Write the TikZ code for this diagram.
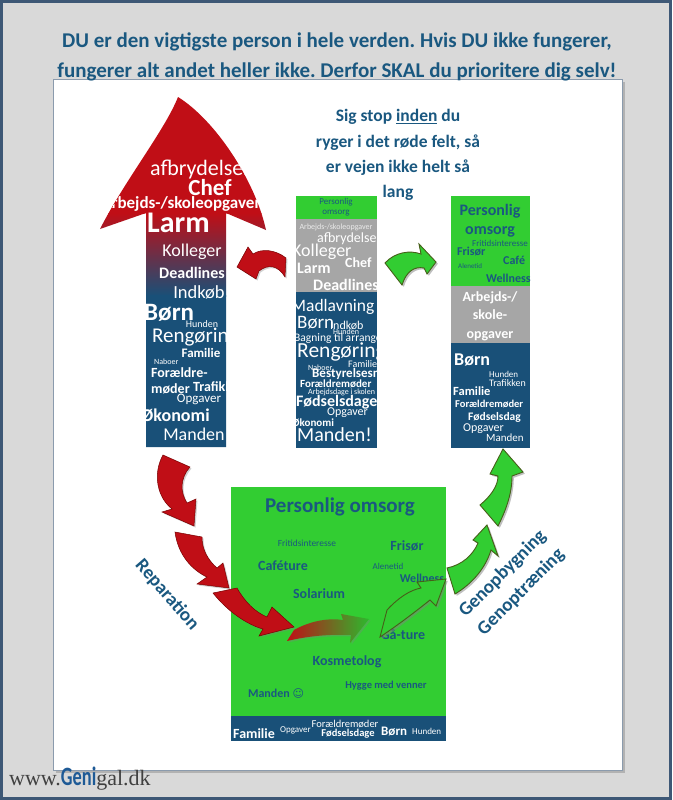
\documentclass[tikz,border=0pt]{standalone}
\usepackage{fontspec}
\usepackage{graphicx}
\setmainfont{Carlito}
\newfontfamily\serifface{Liberation Serif}
\newfontfamily\symface{DejaVu Sans}
\usetikzlibrary{shadows}
\definecolor{bggray}{RGB}{217,217,217}
\definecolor{frameblue}{RGB}{62,88,118}
\definecolor{inkblue}{RGB}{26,88,128}
\definecolor{colblue}{RGB}{25,80,120}
\definecolor{arrowred}{RGB}{192,14,22}
\definecolor{redline}{RGB}{120,0,0}
\definecolor{leafgreen}{RGB}{50,205,50}
\definecolor{greenline}{RGB}{70,95,25}
\definecolor{colgray}{RGB}{166,166,166}
\definecolor{logogray}{RGB}{64,64,64}
\definecolor{logoblue}{RGB}{30,90,150}
\newcommand{\rsz}[1]{\fontsize{#1}{#1}\selectfont}
\newcommand{\bsz}[1]{\bfseries\fontsize{#1}{#1}\selectfont}
\frenchspacing
\begin{document}
\begin{tikzpicture}[x=1pt, y=-1pt,
    wd/.style={inner sep=0pt, text=white},
    tx/.style={inner sep=0pt, text=inkblue},
    redarrow/.style={fill=arrowred, draw=redline, line width=0.5pt,
      drop shadow={shadow xshift=1.5pt, shadow yshift=-1.5pt, opacity=.35}},
    greenarrow/.style={fill=leafgreen, draw=greenline, line width=0.9pt,
      drop shadow={shadow xshift=1.8pt, shadow yshift=-1.8pt, opacity=.5}}]
    \useasboundingbox (0,0) rectangle (672,800);
    \fill[bggray] (0,0) rectangle (672,800);
    \draw[frameblue, line width=3pt] (1.5,1.5) rectangle (670.5,798.5);
    \fill[black!30] (56,82) rectangle (625,773);
    \draw[fill=white, draw=frameblue!60] (53,79) rectangle (622,770);

    \node[tx, align=center, font=\bfseries\fontsize{21}{30}\selectfont] (title) at (337,57)
      {DU er den vigtigste person i hele verden. Hvis DU ikke fungerer,\\
       fungerer alt andet heller ikke. Derfor SKAL du prioritere dig selv!};
    \node[tx, align=center, font=\bfseries\fontsize{17.5}{25.3}\selectfont] (stop) at (398,155)
      {Sig stop \underline{inden} du\\ ryger i det røde felt, så\\ er vejen ikke helt så\\ lang};

    % big arrow
    \begin{scope}
      \clip (100,229) -- (146,213) -- (146,447) -- (226,447) -- (226,213) -- (266,230)
        .. controls (255,180) and (215,120) .. (178,97)
        .. controls (165,130) and (125,180) .. cycle;
      \fill[arrowred] (95,90) rectangle (270,214);
      \shade[top color=arrowred, bottom color=colblue] (95,213) rectangle (270,296);
      \fill[colblue] (95,295) rectangle (270,450);
      \node[wd, anchor=west, font=\rsz{22}] (l1) at (150,170) {afbrydelser};
      \node[wd, font=\bsz{23}] (l2) at (210,188) {Chef};
      \node[wd, anchor=west, font=\bsz{17}] (l3) at (101,204) {Arbejds-/skoleopgaver};
      \node[wd, anchor=west, font=\bsz{30}] (l4) at (147,223) {Larm};
      \node[wd, font=\rsz{18}] (l5) at (192,252) {Kolleger};
      \node[wd, font=\bsz{16}] (l6) at (192,273) {Deadlines};
      \node[wd, font=\rsz{18.5}] (l7) at (199,292) {Indkøb};
      \node[wd, anchor=west, font=\bsz{25}] (l8) at (144,313) {Børn};
      \node[wd, font=\rsz{10}] (l9) at (202,324) {Hunden};
      \node[wd, anchor=west, font=\rsz{21}] (l10) at (152,337) {Rengøring};
      \node[wd, font=\bsz{13}] (l11) at (201,353) {Familie};
      \node[wd, anchor=west, font=\rsz{8}] (l12) at (154,362) {Naboer};
      \node[wd, anchor=west, font=\bsz{14}] (l13) at (151,373) {Forældre-};
      \node[wd, anchor=west, font=\bsz{14}] (l14) at (151,389) {møder};
      \node[wd, anchor=west, font=\bsz{14}] (l15) at (193,387) {Trafikken};
      \node[wd, font=\rsz{13}] (l16) at (199,399) {Opgaver};
      \node[wd, anchor=west, font=\bsz{18}] (l17) at (141,416) {Økonomi};
      \node[wd, font=\rsz{18}] (l18) at (194,434) {Manden};
    \end{scope}

    % middle column
    \begin{scope}
      \clip (296,196) rectangle (377,448);
      \fill[leafgreen] (296,196) rectangle (377,219);
      \fill[colgray] (296,219) rectangle (377,292);
      \fill[colblue] (296,292) rectangle (377,448);
      \node[tx, align=center, font=\fontsize{9}{10}\selectfont] (m1) at (336,207) {Personlig\\omsorg};
      \node[wd, font=\rsz{8}, text=white!92!black] (m2) at (336,227) {Arbejds-/skoleopgaver};
      \node[wd, anchor=west, font=\rsz{14}] (m3) at (317,239) {afbrydelser};
      \node[wd, anchor=west, font=\rsz{18}] (m4) at (292,252) {Kolleger};
      \node[wd, anchor=west, font=\bsz{14}] (m5) at (345,263) {Chef};
      \node[wd, anchor=west, font=\bsz{16}] (m6) at (297,268) {Larm};
      \node[wd, anchor=west, font=\bsz{16}] (m7) at (313,285) {Deadlines};
      \node[wd, anchor=west, font=\rsz{17.5}] (m8) at (291,307) {Madlavning};
      \node[wd, anchor=west, font=\rsz{19}] (m9) at (297,323) {Børn};
      \node[wd, anchor=west, font=\rsz{12}] (m10) at (330,326) {Indkøb};
      \node[wd, anchor=west, font=\rsz{8}] (m11) at (333,332) {Hunden};
      \node[wd, anchor=west, font=\rsz{11.5}] (m12) at (294,338) {Bagning til arrangementer};
      \node[wd, anchor=west, font=\rsz{21.5}] (m13) at (297,352) {Rengøring};
      \node[wd, anchor=west, font=\rsz{8}] (m14) at (308,368) {Naboer};
      \node[wd, anchor=west, font=\rsz{10}] (m15) at (348,364) {Familie};
      \node[wd, anchor=west, font=\bsz{13}] (m16) at (312,374) {Bestyrelsesmøder};
      \node[wd, anchor=west, font=\bsz{11}] (m17) at (300,384) {Forældremøder};
      \node[wd, anchor=west, font=\rsz{8}] (m18) at (308,392) {Arbejdsdage i skolen};
      \node[wd, anchor=west, font=\bsz{16}] (m19) at (296,402) {Fødselsdage};
      \node[wd, anchor=west, font=\rsz{12}] (m20) at (327,413) {Opgaver};
      \node[wd, anchor=west, font=\bsz{11}] (m21) at (292,423) {Økonomi};
      \node[wd, anchor=west, font=\rsz{20}] (m22) at (297,435) {Manden!};
    \end{scope}

    % right column
    \begin{scope}
      \clip (451,196) rectangle (530,448);
      \fill[leafgreen] (451,196) rectangle (530,286);
      \fill[colgray] (451,286) rectangle (530,343);
      \fill[colblue] (451,343) rectangle (530,448);
      \node[tx, align=center, font=\bfseries\fontsize{16}{19}\selectfont] (r1) at (490,221) {Personlig\\omsorg};
      \node[tx, anchor=west, font=\rsz{9}] (r2) at (472,243) {Fritidsinteresse};
      \node[tx, anchor=west, font=\bsz{12}] (r3) at (457,252) {Frisør};
      \node[tx, anchor=west, font=\bsz{12}] (r4) at (503,260) {Café};
      \node[tx, anchor=west, font=\rsz{7}] (r5) at (458,266) {Alenetid};
      \node[tx, anchor=west, font=\bsz{12}] (r6) at (486,278) {Wellness};
      \node[wd, align=center, font=\bfseries\fontsize{14}{18.5}\selectfont] (r7) at (490,316) {Arbejds-/\\skole-\\opgaver};
      \node[wd, anchor=west, font=\bsz{18}] (r8) at (454,360) {Børn};
      \node[wd, anchor=west, font=\rsz{9}] (r9) at (489,374) {Hunden};
      \node[wd, anchor=west, font=\rsz{10}] (r10) at (489,383) {Trafikken};
      \node[wd, anchor=west, font=\bsz{12.5}] (r11) at (453,391) {Familie};
      \node[wd, anchor=west, font=\bsz{10.5}] (r12) at (455,404) {Forældremøder};
      \node[wd, anchor=west, font=\bsz{11.5}] (r13) at (468,417) {Fødselsdag};
      \node[wd, anchor=west, font=\rsz{12}] (r14) at (463,429) {Opgaver};
      \node[wd, anchor=west, font=\rsz{11}] (r15) at (486,438) {Manden};
    \end{scope}

    % bottom box
    \fill[leafgreen] (231,487) rectangle (446,716);
    \fill[colblue] (231,716) rectangle (446,741);
    \node[tx, font=\bsz{21}] (b1) at (340,507) {Personlig omsorg};
    \node[tx, font=\rsz{9.4}] (b2) at (307,543) {Fritidsinteresse};
    \node[tx, font=\bsz{14}] (b3) at (407,546) {Frisør};
    \node[tx, font=\bsz{14}] (b4) at (283,566) {Caféture};
    \node[tx, font=\rsz{9}] (b5) at (388,566) {Alenetid};
    \node[tx, font=\bsz{12}] (b6) at (422,578) {Wellness};
    \node[tx, font=\bsz{14}] (b7) at (319,594) {Solarium};
    \node[tx, font=\bsz{14}] (b8) at (403,634) {Gå-ture};
    \node[tx, font=\bsz{14}] (b9) at (347,662) {Kosmetolog};
    \node[tx, font=\bsz{10.5}] (b10) at (386,686) {Hygge med venner};
    \node[tx, font=\bsz{12}] (b11) at (276,693) {Manden {\symface\mdseries\rsz{11}☺}};
    \node[wd, anchor=west, font=\bsz{14}] (b12) at (233,734) {Familie};
    \node[wd, anchor=west, font=\rsz{9}] (b13) at (280,730) {Opgaver};
    \node[wd, font=\rsz{10.5}] (b14) at (345,724) {Forældremøder};
    \node[wd, font=\bsz{10.5}] (b15) at (348,734) {Fødselsdage};
    \node[wd, anchor=west, font=\bsz{13}] (b16) at (381,732) {Børn};
    \node[wd, anchor=west, font=\rsz{9}] (b17) at (412,731) {Hunden};

    % small arrows
    \draw[redarrow] (286,258) .. controls (276,250) and (262,248) .. (253,254) -- (248,247) -- (237,267)
      -- (256,279) -- (259,271) .. controls (268,264) and (278,265) .. (285,277) -- cycle;
    \draw[greenarrow] (385,263) .. controls (395,252) and (410,250) .. (421,254) -- (419,244) -- (436,262)
      -- (427,274) -- (424,268) .. controls (414,266) and (406,272) .. (402,285) -- cycle;

    % down arrows
    \draw[redarrow] (163,455) .. controls (152,475) and (158,498) .. (172,509) -- (162,512) -- (194,526)
      -- (196,499) -- (187,503) .. controls (180,492) and (180,478) .. (190,467) -- cycle;
    \draw[redarrow] (175,532) .. controls (178,555) and (192,570) .. (207,577) -- (197,584) -- (229,588)
      -- (223,563) -- (217,568) .. controls (208,560) and (202,550) .. (202,537) -- cycle;
    \draw[redarrow] (213,593) .. controls (228,612) and (248,625) .. (263,629) -- (259,636) -- (294,627)
      -- (272,607) -- (267,617) .. controls (255,612) and (245,602) .. (237,588) -- cycle;
    \path[left color=arrowred, right color=leafgreen!90!black,
      drop shadow={shadow xshift=1.5pt, shadow yshift=-1.5pt, opacity=.35}]
      (294,630) .. controls (312,620) and (330,618) .. (343,620) -- (341,614) -- (369,619)
      -- (350,643) -- (351,635) .. controls (330,634) and (308,636) .. (287,641) -- cycle;

    % up arrows
    \draw[greenarrow] (387,610) .. controls (398,598) and (410,590) .. (421,588) -- (417,582) -- (446,579)
      -- (436,606) -- (430,600) .. controls (415,612) and (398,625) .. (380,637) -- cycle;
    \draw[greenarrow] (447,568) .. controls (462,565) and (473,555) .. (478,543) -- (473,540) -- (487,525)
      -- (498,556) -- (491,550) .. controls (485,570) and (470,585) .. (455,594) -- cycle;
    \draw[greenarrow] (480,505) .. controls (492,495) and (498,485) .. (498,476) -- (490,474) -- (503,449)
      -- (523,472) -- (512,476) .. controls (512,495) and (505,512) .. (498,526) -- cycle;

    \node[tx, rotate=-49, font=\bsz{19}] (rep) at (167,595) {Reparation};
    \node[tx, rotate=45, align=center, font=\bfseries\fontsize{19}{26}\selectfont] (gen) at (512,583)
      {Genopbygning\\Genoptræning};

    \node[anchor=west, inner sep=0pt, text=logogray] (logo) at (9,779)
      {\serifface\rsz{22}www.\textcolor{logoblue}{\normalfont\scalebox{0.8}[1.15]{\bsz{23}Geni}}gal.dk};
\end{tikzpicture}
\end{document}
